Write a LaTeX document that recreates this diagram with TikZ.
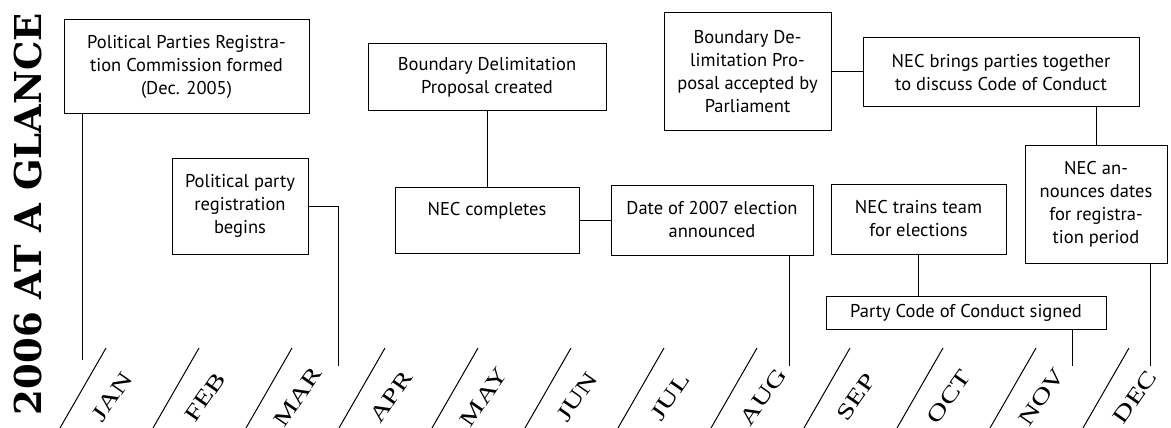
\documentclass[tikz,border=0pt]{standalone}
\usepackage{fontspec}
\newfontfamily\boxfont{PT Sans}
\newfontfamily\monthfont{Liberation Serif}
\newfontfamily\titlefont{DejaVu Serif}
\tikzset{
  event/.style={draw=black, line width=1pt, align=center, inner sep=0pt,
    font=\boxfont\fontsize{18.5}{23}\selectfont},
  month/.style={rotate=55, inner sep=0pt, font=\monthfont\fontsize{22}{22}\selectfont},
  link/.style={black, line width=1pt}
}
\newcommand{\mlabel}[1]{\scalebox{1.35}[1]{#1}}
\begin{document}
\begin{tikzpicture}[x=1pt, y=-1pt]
        \useasboundingbox (0,0) rectangle (1171,428);

        \node[rotate=90, inner sep=0pt, font=\titlefont\bfseries\fontsize{37}{37}\selectfont] (title) at (28,214) {2006 AT A GLANCE};

        % events
        \node[event, minimum width=245, minimum height=94] (pprc) at (186.5,67) {Political Parties Registra-\\tion Commission formed\\(Dec. 2005)};
        \node[event, minimum width=136, minimum height=96] (regbegins) at (240,206) {Political party\\registration\\begins};
        \node[event, minimum width=238, minimum height=67] (bdpcreated) at (487,77.5) {Boundary Delimitation\\Proposal created};
        \node[event, minimum width=184, minimum height=66] (neccompletes) at (487,220) {NEC completes\\\mbox{}};
        \node[event, minimum width=202, minimum height=70] (dateann) at (712,220) {Date of 2007 election\\announced};
        \node[event, minimum width=167, minimum height=117] (bdpaccepted) at (747.5,71.5) {Boundary De-\\limitation Pro-\\posal accepted by\\Parliament};
        \node[event, minimum width=276, minimum height=69] (necbrings) at (1001,72.5) {NEC brings parties together\\to discuss Code of Conduct};
        \node[event, minimum width=142, minimum height=118] (necdates) at (1096,204) {NEC an-\\nounces dates\\for registra-\\tion period};
        \node[event, minimum width=175, minimum height=70] (nectrains) at (918.5,219) {NEC trains team\\for elections};
        \node[event, minimum width=280, minimum height=33] (codesigned) at (966,312.5) {Party Code of Conduct signed};

        % month ends of the connectors
        \coordinate (jan) at (82,360);
        \coordinate (mar) at (338,366);
        \coordinate (aug) at (789,366);
        \coordinate (nov) at (1072,366);
        \coordinate (dec) at (1150,366);

        \draw[link] (pprc.south -| jan) -- (jan);
        \draw[link] (regbegins.east) -| (mar);
        \draw[link] (bdpcreated.south) -- (neccompletes.north);
        \draw[link] (neccompletes.east) -- (neccompletes.east -| dateann.west);
        \draw[link] (dateann.south -| aug) -- (aug);
        \draw[link] (bdpaccepted.east) -- (bdpaccepted.east -| necbrings.west);
        \draw[link] (necdates.north) -- (necdates.north |- necbrings.south);
        \draw[link] (nectrains.south) -- (nectrains.south |- codesigned.north);
        \draw[link] (codesigned.south -| nov) -- (nov);
        \draw[link] (necdates.south -| dec) -- (dec);

        % month slashes
        \draw[link] (106,348) -- (60,428);
        \draw[link] (199,348) -- (153,428);
        \draw[link] (292,348) -- (246,428);
        \draw[link] (385,348) -- (339,428);
        \draw[link] (478,348) -- (432,428);
        \draw[link] (571,348) -- (525,428);
        \draw[link] (664,348) -- (618,428);
        \draw[link] (757,348) -- (711,428);
        \draw[link] (850,348) -- (804,428);
        \draw[link] (943,348) -- (897,428);
        \draw[link] (1036,348) -- (990,428);
        \draw[link] (1129,348) -- (1083,428);

        % month names
        \node[month] (m1) at (112,397) {\mlabel{JAN}};
        \node[month] (m2) at (205,397) {\mlabel{FEB}};
        \node[month] (m3) at (298,397) {\mlabel{MAR}};
        \node[month] (m4) at (391,397) {\mlabel{APR}};
        \node[month] (m5) at (484,397) {\mlabel{MAY}};
        \node[month] (m6) at (577,397) {\mlabel{JUN}};
        \node[month] (m7) at (670,397) {\mlabel{JUL}};
        \node[month] (m8) at (763,397) {\mlabel{AUG}};
        \node[month] (m9) at (856,397) {\mlabel{SEP}};
        \node[month] (m10) at (949,397) {\mlabel{OCT}};
        \node[month] (m11) at (1042,397) {\mlabel{NOV}};
        \node[month] (m12) at (1135,397) {\mlabel{DEC}};
    \end{tikzpicture}
\end{document}
